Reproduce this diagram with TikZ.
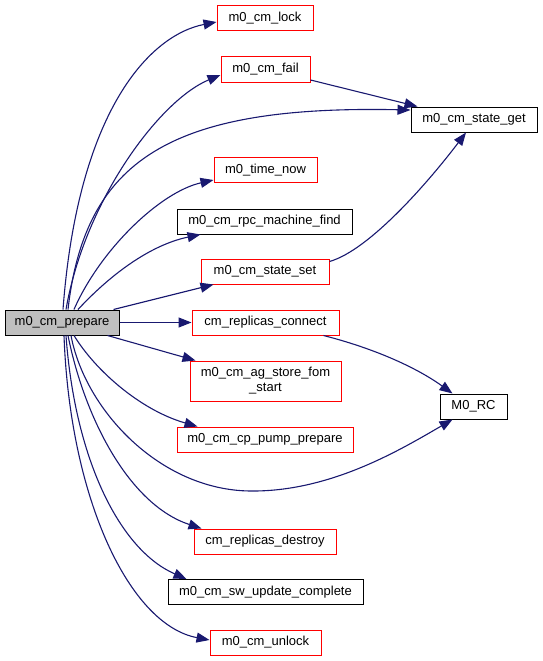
\documentclass[tikz,border=0pt]{standalone}
\usepackage{fontspec}
\setmainfont{Liberation Sans}
\usetikzlibrary{arrows.meta}
\definecolor{edgeblue}{HTML}{191970}
\definecolor{boxgray}{HTML}{BFBFBF}

\begin{document}
\begin{tikzpicture}[x=1pt, y=-1pt,
	every node/.style={font=\fontsize{13}{15}\selectfont, inner sep=0pt, minimum height=25pt, align=center},
	redbox/.style={draw=red, line width=1pt},
	blackbox/.style={draw=black, line width=1pt},
	call/.style={color=edgeblue, line width=1.1pt, -{Triangle[length=13pt, width=10pt]}}]
			
			\useasboundingbox (0,0) rectangle (543,661);
			
			\node[blackbox, fill=boxgray, minimum width=114pt] (cmPrepare) at (62,322.5) {m0\_cm\_prepare};
			
			\node[redbox, minimum width=96pt] (cmLock) at (265,18.5) {m0\_cm\_lock};
			\node[redbox, minimum width=89pt] (cmFail) at (265.5,69.5) {m0\_cm\_fail};
			\node[blackbox, minimum width=126pt] (cmStateGet) at (474,119.5) {m0\_cm\_state\_get};
			\node[redbox, minimum width=103pt] (timeNow) at (265.5,170) {m0\_time\_now};
			\node[blackbox, minimum width=175pt] (rpcFind) at (264.5,221.5) {m0\_cm\_rpc\_machine\_find};
			\node[redbox, minimum width=128pt] (cmStateSet) at (265,271.5) {m0\_cm\_state\_set};
			\node[redbox, minimum width=147pt] (repConnect) at (265.5,322.5) {cm\_replicas\_connect};
			\node[redbox, minimum width=151pt, minimum height=40pt] (agStore) at (265.5,381) {m0\_cm\_ag\_store\_fom\\\_start};
			\node[blackbox, minimum width=67pt] (mRC) at (473.5,406.5) {M0\_RC};
			\node[redbox, minimum width=176pt] (pumpPrepare) at (265,439.5) {m0\_cm\_cp\_pump\_prepare};
			\node[redbox, minimum width=142pt] (repDestroy) at (265,541.5) {cm\_replicas\_destroy};
			\node[blackbox, minimum width=195pt] (swUpdate) at (265.5,592) {m0\_cm\_sw\_update\_complete};
			\node[redbox, minimum width=111pt] (cmUnlock) at (265.5,642.5) {m0\_cm\_unlock};
			
			% calls going up
			\draw[call] ([xshift=1pt]cmPrepare.north) .. controls (78,110) and (150,35) .. ([yshift=-3.5pt]cmLock.west);
			\draw[call] ([xshift=4pt]cmPrepare.north) .. controls (85,200) and (160,100) .. ([yshift=-5.5pt]cmFail.west);
			\draw[call] ([xshift=6pt]cmPrepare.north) .. controls (85,160) and (170,105) .. ([yshift=9.5pt]cmStateGet.west);
			\draw[call] ([xshift=12pt]cmPrepare.north) .. controls (100,250) and (160,192) .. ([yshift=-10pt]timeNow.west);
			\draw[call] ([xshift=16pt]cmPrepare.north) .. controls (110,275) and (150,245) .. ([xshift=24pt]rpcFind.south west);
			\draw[call] ([xshift=-6pt]cmPrepare.north east) -- ([xshift=13pt]cmStateSet.south west);
			\draw[call] (cmPrepare.east) -- (repConnect.west);
			
			% calls going down
			\draw[call] ([xshift=-12pt]cmPrepare.south east) -- ([xshift=6pt]agStore.north west);
			\draw[call] ([xshift=12pt]cmPrepare.south) .. controls (95,370) and (140,410) .. ([xshift=21pt]pumpPrepare.north west);
			\draw[call] ([xshift=9pt]cmPrepare.south) .. controls (85,410) and (160,490) .. (250,491) .. controls (330,492) and (400,450) .. ([xshift=13pt]mRC.south west);
			\draw[call] ([xshift=6pt]cmPrepare.south) .. controls (85,420) and (130,505) .. ([xshift=8pt]repDestroy.north west);
			\draw[call] ([xshift=4pt]cmPrepare.south) .. controls (75,460) and (120,550) .. ([xshift=19pt]swUpdate.north west);
			\draw[call] ([xshift=2pt]cmPrepare.south) .. controls (70,500) and (130,625) .. ([yshift=2.5pt]cmUnlock.west);
			
			% second level
			\draw[call] ([yshift=-10.5pt]cmFail.east) -- ([xshift=7pt]cmStateGet.north west);
			\draw[call] ([yshift=-3pt]cmStateSet.north east) .. controls (370,250) and (430,180) .. ([xshift=-8pt]cmStateGet.south);
			\draw[call] ([xshift=-16pt]repConnect.south east) .. controls (380,350) and (420,370) .. ([xshift=13pt]mRC.north west);
			
			\end{tikzpicture}
\end{document}
